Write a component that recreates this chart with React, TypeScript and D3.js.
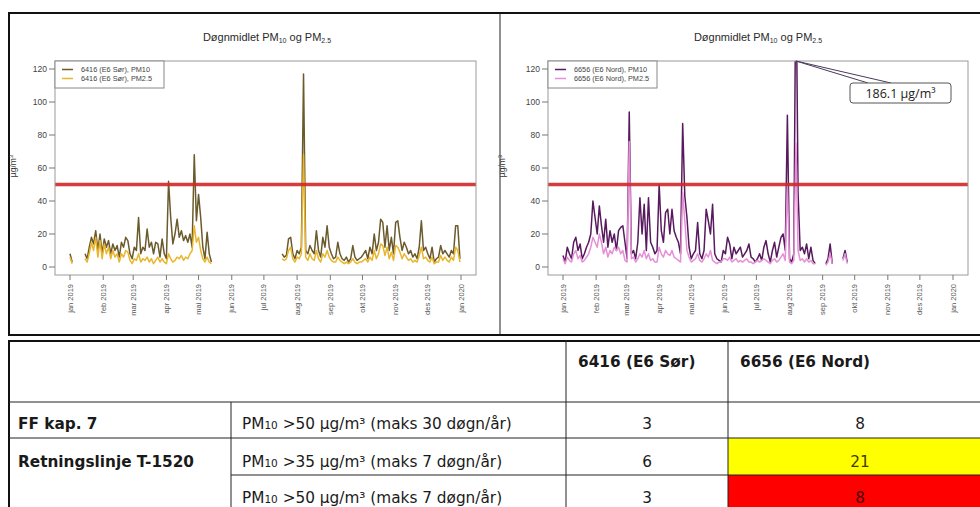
import React, { useEffect, useRef } from "react";
import * as d3 from "d3";

// values are read every second day; each segment starts at `from`
type Segment = { from: string; values: number[] };

const STEP_DAYS = 2;
const yTicks = [0, 20, 40, 60, 80, 100, 120];
const monthLabels = [
  "jan 2019", "feb 2019", "mar 2019", "apr 2019", "mai 2019", "jun 2019", "jul 2019",
  "aug 2019", "sep 2019", "okt 2019", "nov 2019", "des 2019", "jan 2020",
];
const limitValue = 50;

const sorPm10: Segment[] = [
  { from: "2019-01-01", values: [8, 3] },
  {
    from: "2019-01-15",
    values: [
      8, 5, 12, 18, 14, 22, 10, 20, 8, 17, 12, 16, 8, 14, 10, 13, 6, 15, 12, 18,
      16, 8, 5, 12, 10, 30, 8, 12, 10, 23, 12, 15, 8, 15, 14, 6, 17, 8, 5, 52,
      30, 14, 20, 29, 18, 22, 16, 19, 15, 20, 12, 68, 28, 44, 30, 12, 5, 21, 8, 3,
    ],
  },
  {
    from: "2019-07-18",
    values: [
      8, 6, 7, 17, 18, 8, 5, 10, 8, 12, 117, 10, 8, 13, 10, 8, 22, 10, 6, 18,
      12, 25, 12, 8, 5, 6, 15, 8, 5, 4, 6, 3, 5, 13, 6, 4, 5, 6, 8, 10,
      5, 12, 8, 20, 10, 15, 29, 27, 12, 25, 10, 18, 8, 27, 28, 18, 10, 15, 12, 8,
      10, 6, 8, 5, 12, 28, 10, 12, 8, 5, 12, 3, 5, 6, 13, 8, 10, 8, 6, 10,
      8, 25, 25, 5,
    ],
  },
];

const sorPm25: Segment[] = [
  { from: "2019-01-01", values: [6, 2] },
  {
    from: "2019-01-15",
    values: [
      5, 3, 8, 15, 10, 18, 6, 16, 5, 14, 8, 12, 5, 10, 6, 8, 3, 8, 6, 10,
      9, 4, 2, 5, 4, 8, 3, 5, 4, 6, 3, 5, 2, 4, 6, 3, 5, 3, 2, 8,
      5, 3, 4, 6, 5, 7, 4, 6, 5, 8, 10, 25, 15, 18, 10, 5, 3, 6, 3, 2,
    ],
  },
  {
    from: "2019-07-18",
    values: [
      5, 4, 5, 10, 12, 5, 3, 6, 5, 8, 68, 6, 4, 8, 5, 4, 10, 5, 3, 8,
      6, 10, 6, 4, 3, 3, 6, 4, 3, 2, 3, 2, 3, 5, 3, 2, 3, 3, 4, 5,
      3, 6, 4, 10, 5, 8, 14, 13, 7, 12, 5, 9, 4, 13, 12, 9, 5, 8, 6, 4,
      5, 3, 4, 3, 7, 12, 5, 6, 4, 3, 6, 2, 3, 3, 7, 4, 6, 4, 3, 6,
      4, 12, 10, 3,
    ],
  },
];

const nordPm10: Segment[] = [
  {
    from: "2019-01-01",
    values: [
      7, 3, 12, 8, 5, 15, 18, 10, 14, 5, 8, 12, 15, 20, 40, 30, 20, 37, 25, 15,
      29, 12, 22, 15, 20, 10, 22, 24, 25, 15, 5, 94, 8, 10, 5, 15, 42, 20, 38, 10,
      42, 15, 12, 8, 10, 50, 22, 15, 33, 35, 20, 35, 22, 18, 15, 8, 87, 43, 30, 12,
      5, 8, 10, 27, 8, 5, 10, 35, 28, 20, 38, 8, 5, 4, 3, 10, 8, 18, 14, 5,
      12, 8, 10, 12, 6, 8, 10, 14, 6, 5, 3, 5, 8, 4, 12, 16, 8, 3, 10, 15,
      6, 12, 18, 20, 10, 92, 5, 3, 8, 186, 45, 10, 12, 8, 14, 5, 12, 4, 2,
    ],
  },
  { from: "2019-09-04", values: [2, 5, 14, 2] },
  { from: "2019-09-20", values: [5, 10, 3] },
];

const nordPm25: Segment[] = [
  {
    from: "2019-01-01",
    values: [
      5, 2, 6, 4, 3, 8, 10, 5, 7, 3, 4, 6, 8, 12, 18, 15, 12, 20, 15, 8,
      12, 6, 10, 8, 12, 10, 12, 8, 10, 4, 3, 76, 5, 6, 3, 5, 8, 6, 10, 5,
      8, 4, 5, 3, 3, 12, 8, 6, 10, 8, 7, 10, 6, 5, 4, 3, 45, 28, 10, 6,
      3, 4, 5, 8, 4, 3, 5, 8, 6, 10, 4, 3, 2, 3, 3, 5, 5, 4, 6, 3,
      4, 5, 3, 4, 3, 4, 5, 3, 3, 2, 3, 4, 3, 4, 5, 4, 3, 2, 4, 5,
      3, 4, 6, 8, 4, 50, 3, 2, 4, 75, 10, 4, 5, 3, 5, 3, 4, 2, 2,
    ],
  },
  { from: "2019-09-04", values: [1, 3, 8, 2] },
  { from: "2019-09-20", values: [4, 8, 2] },
];

const stations = ["6416 (E6 Sør)", "6656 (E6 Nord)"];
const ruleGroups = ["FF kap. 7", "Retningslinje T-1520"];
const ruleTexts = [
  " >50 µg/m³ (maks 30 døgn/år)",
  " >35 µg/m³ (maks 7 døgn/år)",
  " >50 µg/m³ (maks 7 døgn/år)",
];
const sorCounts = [3, 6, 3];
const nordCounts = [8, 21, 8];
const nordCellFill = ["none", "#ffff00", "#ff0000"];
const nordCellText = ["#1a1a1a", "#3d3d00", "#4a0000"];

const parseDay = d3.timeParse("%Y-%m-%d");

interface PanelCfg {
  id: string;
  left: number;
  right: number;
  x0: number;
  x1: number;
  titleX: number;
  ylabX: number;
  pm10: Segment[];
  pm25: Segment[];
  c10: string;
  c25: string;
  names: string[];
  callout?: string;
}

const panels: PanelCfg[] = [
  {
    id: "sor",
    left: 55,
    right: 476,
    x0: 70,
    x1: 461,
    titleX: 267,
    ylabX: 16,
    pm10: sorPm10,
    pm25: sorPm25,
    c10: "#6a5a2c",
    c25: "#e9b52c",
    names: ["6416 (E6 Sør), PM10", "6416 (E6 Sør), PM2.5"],
  },
  {
    id: "nord",
    left: 548,
    right: 968,
    x0: 563,
    x1: 953,
    titleX: 758,
    ylabX: 505,
    pm10: nordPm10,
    pm25: nordPm25,
    c10: "#581a5e",
    c25: "#e590d6",
    names: ["6656 (E6 Nord), PM10", "6656 (E6 Nord), PM2.5"],
    callout: "186.1 µg/m³",
  },
];

function Panel({ cfg }: { cfg: PanelCfg }) {
  const ref = useRef<SVGGElement | null>(null);

  useEffect(() => {
    if (!ref.current) return;
    const g = d3.select(ref.current);
    g.selectAll("*").remove();

    const top = 61;
    const bottom = 275;
    const x = d3
      .scaleTime()
      .domain([new Date(2019, 0, 1), new Date(2020, 0, 1)])
      .range([cfg.x0, cfg.x1]);
    const y = d3.scaleLinear().domain([0, 120]).range([267, 69]);

    const title = g
      .append("text")
      .attr("x", cfg.titleX)
      .attr("y", 41)
      .attr("text-anchor", "middle")
      .attr("font-size", 11)
      .attr("fill", "#2a2a2a");
    title.append("tspan").text("Døgnmidlet PM");
    title.append("tspan").attr("font-size", 7).attr("dy", 2).text("10");
    title.append("tspan").attr("dy", -2).text(" og PM");
    title.append("tspan").attr("font-size", 7).attr("dy", 2).text("2.5");

    g.append("clipPath")
      .attr("id", `clip-${cfg.id}`)
      .append("rect")
      .attr("x", cfg.left)
      .attr("y", top)
      .attr("width", cfg.right - cfg.left)
      .attr("height", bottom - top);

    const plot = g.append("g").attr("clip-path", `url(#clip-${cfg.id})`);

    const line = d3
      .line<[Date, number]>()
      .x((d) => x(d[0]))
      .y((d) => y(d[1]));
    const toPoints = (s: Segment) =>
      s.values.map(
        (v, k) => [d3.timeDay.offset(parseDay(s.from) as Date, k * STEP_DAYS), v] as [Date, number]
      );

    const series: [Segment[], string][] = [
      [cfg.pm10, cfg.c10],
      [cfg.pm25, cfg.c25],
    ];
    series.forEach(([segs, color]) => {
      plot
        .selectAll(null)
        .data(segs)
        .enter()
        .append("path")
        .attr("d", (s) => line(toPoints(s)))
        .attr("fill", "none")
        .attr("stroke", color)
        .attr("stroke-width", 1.5)
        .attr("stroke-linejoin", "round");
    });

    plot
      .append("line")
      .attr("x1", cfg.left)
      .attr("x2", cfg.right)
      .attr("y1", y(limitValue))
      .attr("y2", y(limitValue))
      .attr("stroke", "#d02828")
      .attr("stroke-opacity", 0.9)
      .attr("stroke-width", 3.5);

    // frame
    g.append("rect")
      .attr("x", cfg.left)
      .attr("y", top)
      .attr("width", cfg.right - cfg.left)
      .attr("height", bottom - top)
      .attr("fill", "none")
      .attr("stroke", "#9a9a9a");

    // y axis
    yTicks.forEach((t) => {
      g.append("line")
        .attr("x1", cfg.left - 6)
        .attr("x2", cfg.left)
        .attr("y1", y(t))
        .attr("y2", y(t))
        .attr("stroke", "#777");
      g.append("text")
        .attr("x", cfg.left - 8)
        .attr("y", y(t))
        .attr("dy", "0.35em")
        .attr("text-anchor", "end")
        .attr("font-size", 8.5)
        .attr("fill", "#444")
        .text(t);
    });

    const ylab = g
      .append("text")
      .attr("transform", `translate(${cfg.ylabX},166) rotate(-90)`)
      .attr("text-anchor", "middle")
      .attr("font-size", 8.5)
      .attr("fill", "#333");
    ylab.append("tspan").text("µg/m");
    ylab.append("tspan").attr("font-size", 6).attr("dy", -3).text("3");

    // x axis
    const months = d3.timeMonth.range(new Date(2019, 0, 1), new Date(2020, 0, 2));
    months.forEach((m, i) => {
      g.append("line")
        .attr("x1", x(m))
        .attr("x2", x(m))
        .attr("y1", bottom)
        .attr("y2", bottom + 5)
        .attr("stroke", "#777");
      g.append("text")
        .attr("transform", `translate(${x(m) + 2.5},284) rotate(-90)`)
        .attr("text-anchor", "end")
        .attr("font-size", 7.5)
        .attr("fill", "#555")
        .text(monthLabels[i]);
    });

    // legend
    const lg = g.append("g");
    lg.append("rect")
      .attr("x", cfg.left)
      .attr("y", top)
      .attr("width", 109)
      .attr("height", 27)
      .attr("fill", "#fff")
      .attr("stroke", "#888");
    cfg.names.forEach((name, i) => {
      const ly = top + 8.5 + i * 9;
      lg.append("line")
        .attr("x1", cfg.left + 7)
        .attr("x2", cfg.left + 18)
        .attr("y1", ly)
        .attr("y2", ly)
        .attr("stroke", i === 0 ? cfg.c10 : cfg.c25)
        .attr("stroke-width", 1.5);
      lg.append("text")
        .attr("x", cfg.left + 26)
        .attr("y", ly)
        .attr("dy", "0.35em")
        .attr("font-size", 7.3)
        .attr("fill", "#444")
        .text(name);
    });

    if (cfg.callout) {
      const all = cfg.pm10.flatMap(toPoints);
      const peak = all.reduce((a, b) => (b[1] > a[1] ? b : a));
      const px = x(peak[0]);
      const co = g.append("g");
      co.append("path")
        .attr("d", `M${px},${top} L868,83 M${px},${top} L891,83`)
        .attr("stroke", "#4a3a5a")
        .attr("fill", "none");
      co.append("rect")
        .attr("x", 850)
        .attr("y", 83)
        .attr("width", 101)
        .attr("height", 20)
        .attr("rx", 3)
        .attr("fill", "#fff")
        .attr("stroke", "#555");
      co.append("text")
        .attr("x", 900.5)
        .attr("y", 93)
        .attr("dy", "0.36em")
        .attr("text-anchor", "middle")
        .attr("font-family", "Open Sans, sans-serif")
        .attr("font-size", 12.5)
        .attr("fill", "#222")
        .text(cfg.callout);
    }
  }, [cfg]);

  return <g ref={ref} fontFamily="Liberation Sans, Arial, sans-serif" />;
}

function Table() {
  const rowsY = [402, 438, 475, 507];
  const baselines = [429, 467, 503];
  return (
    <g fontFamily="DejaVu Sans, Verdana, sans-serif" fill="#1a1a1a" fontSize={15.3}>
      {nordCounts.map((_, i) =>
        nordCellFill[i] === "none" ? null : (
          <rect key={i} x={728} y={rowsY[i]} width={270} height={rowsY[i + 1] - rowsY[i] + 10} fill={nordCellFill[i]} />
        )
      )}
      <line x1={9} x2={990} y1={341} y2={341} stroke="#111" strokeWidth={2} />
      <line x1={9} x2={9} y1={340} y2={507} stroke="#111" strokeWidth={2} />
      <line x1={9} x2={990} y1={402} y2={402} stroke="#222" />
      <line x1={9} x2={990} y1={438} y2={438} stroke="#222" />
      <line x1={231} x2={990} y1={475} y2={475} stroke="#222" />
      <line x1={231} x2={231} y1={402} y2={507} stroke="#222" />
      <line x1={566} x2={566} y1={340} y2={507} stroke="#222" />
      <line x1={728} x2={728} y1={340} y2={507} stroke="#222" />

      <text x={578} y={367} fontWeight="bold">{stations[0]}</text>
      <text x={740} y={367} fontWeight="bold">{stations[1]}</text>

      <text x={18} y={baselines[0]} fontWeight="bold">{ruleGroups[0]}</text>
      <text x={18} y={baselines[1]} fontWeight="bold">{ruleGroups[1]}</text>

      {ruleTexts.map((t, i) => (
        <text key={t} x={242} y={baselines[i]}>
          PM
          <tspan fontSize={10.5}>10</tspan>
          {t}
        </text>
      ))}
      {sorCounts.map((v, i) => (
        <text key={`s${i}`} x={647} y={baselines[i]} textAnchor="middle">{v}</text>
      ))}
      {nordCounts.map((v, i) => (
        <text key={`n${i}`} x={860} y={baselines[i]} textAnchor="middle" fill={nordCellText[i]}>{v}</text>
      ))}
    </g>
  );
}

export default function App() {
  return (
    <div style={{ position: "absolute", left: 0, top: 0, width: 980, height: 507, background: "#fff" }}>
      <svg width={980} height={507} style={{ display: "block" }}>
        <rect x={0} y={0} width={980} height={507} fill="#fff" />
        <rect x={9} y={13} width={990} height={322} fill="none" stroke="#111" strokeWidth={2} />
        <line x1={500} x2={500} y1={13} y2={335} stroke="#222" />
        {panels.map((p) => (
          <Panel key={p.id} cfg={p} />
        ))}
        <Table />
      </svg>
    </div>
  );
}
